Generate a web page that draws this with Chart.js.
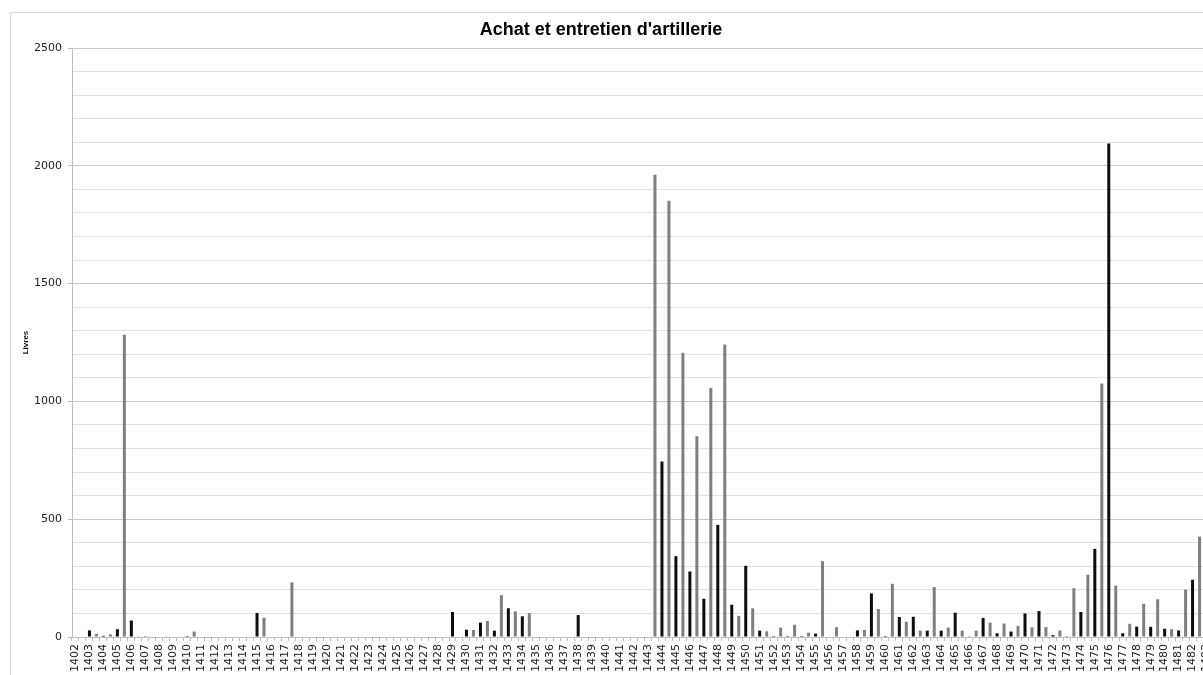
<!DOCTYPE html>
<html lang="fr">
  <head>
    <meta charset="UTF-8" />
    <title>Achat et entretien d'artillerie</title>
    <script src="https://cdn.jsdelivr.net/npm/chart.js"></script>
    <style>
      body {
        margin: 0;
        background: #ffffff;
        overflow: hidden;
      }
      .cadre {
        position: absolute;
        left: 10px;
        top: 12px;
        width: 1206px;
        height: 674px;
        border: 1px solid #d9d9d9;
      }
      h1 {
        position: absolute;
        left: 0;
        top: 19px;
        width: 1202px;
        margin: 0;
        text-align: center;
        font: bold 18px/21px "Liberation Sans", Arial, sans-serif;
        color: #000;
        z-index: 2;
      }
    </style>
  </head>
  <body>
    <h1>Achat et entretien d'artillerie</h1>
    <div class="cadre">
      <canvas id="artillerieChart" width="1206" height="674"></canvas>
    </div>

    <script>
      // années (une étiquette par année, deux termes par année)
      const annees = [
        "1402", "1403", "1404", "1405", "1406", "1407", "1408", "1409", "1410", "1411",
        "1412", "1413", "1414", "1415", "1416", "1417", "1418", "1419", "1420", "1421",
        "1422", "1423", "1424", "1425", "1426", "1427", "1428", "1429", "1430", "1431",
        "1432", "1433", "1434", "1435", "1436", "1437", "1438", "1439", "1440", "1441",
        "1442", "1443", "1444", "1445", "1446", "1447", "1448", "1449", "1450", "1451",
        "1452", "1453", "1454", "1455", "1456", "1457", "1458", "1459", "1460", "1461",
        "1462", "1463", "1464", "1465", "1466", "1467", "1468", "1469", "1470", "1471",
        "1472", "1473", "1474", "1475", "1476", "1477", "1478", "1479", "1480", "1481",
        "1482", "1483",
      ];

      // premier terme (barres noires), en livres
      const premierTerme = [
        0, 28, 5, 33, 70, 1, 0, 0, 4, 0,
        0, 0, 0, 102, 0, 0, 0, 0, 0, 0,
        0, 0, 0, 0, 0, 0, 0, 106, 31, 61,
        27, 122, 88, 0, 0, 0, 93, 0, 0, 0,
        0, 0, 745, 343, 278, 162, 476, 137, 302, 27,
        4, 4, 4, 14, 0, 0, 28, 185, 4, 85,
        86, 27, 27, 103, 3, 81, 16, 23, 100, 110,
        8, 1, 106, 374, 2095, 16, 44, 43, 35, 28,
        243,
      ];

      // second terme (barres grises), en livres
      const secondTerme = [
        0, 13, 11, 1283, 3, 0, 3, 0, 23, 0,
        0, 0, 0, 82, 0, 232, 0, 0, 0, 0,
        0, 0, 0, 0, 0, 0, 0, 0, 30, 68,
        178, 109, 102, 0, 0, 0, 0, 0, 0, 0,
        0, 1962, 1852, 1206, 852, 1057, 1241, 90, 122, 24,
        40, 52, 18, 322, 42, 0, 30, 119, 226, 65,
        27, 212, 40, 27, 27, 61, 57, 47, 41, 42,
        28, 207, 264, 1076, 218, 56, 141, 160, 33, 201,
        426,
      ];

      const yMax = 2500;
      const yPas = 100;
      const yMajeur = 500;

      // une colonne par terme : premier terme étiqueté, second sans étiquette
      const labels = [];
      const valeurs = [];
      const couleurs = [];
      annees.forEach((a, i) => {
        labels.push(a);
        valeurs.push(premierTerme[i] ?? null);
        couleurs.push("#0d0d0d");
        labels.push("");
        valeurs.push(secondTerme[i] ?? null);
        couleurs.push("#7f7f7f");
      });

      const ctx = document.getElementById("artillerieChart").getContext("2d");
      new Chart(ctx, {
        type: "bar",
        data: {
          labels: labels,
          datasets: [
            {
              label: "Livres",
              data: valeurs,
              backgroundColor: couleurs,
              borderWidth: 0,
              barPercentage: 0.43,
              categoryPercentage: 1,
            },
          ],
        },
        options: {
          responsive: false,
          animation: false,
          layout: { padding: { top: 35, left: 0, right: 0, bottom: 0 } },
          plugins: {
            legend: { display: false },
            tooltip: { enabled: false },
          },
          scales: {
            x: {
              ticks: {
                autoSkip: false,
                minRotation: 90,
                maxRotation: 90,
                padding: 3,
                color: "#222",
                font: { family: "DejaVu Sans", size: 11 },
              },
              grid: {
                drawOnChartArea: false,
                tickLength: 4,
                tickColor: "#bdbdbd",
              },
              border: { color: "#bdbdbd" },
              afterFit: (scale) => {
                scale.height = 50;
                scale.paddingLeft = 0;
                scale.paddingRight = 0;
              },
            },
            y: {
              min: 0,
              max: yMax,
              ticks: {
                stepSize: yPas,
                padding: 6,
                color: "#222",
                font: { family: "DejaVu Sans", size: 11 },
                callback: (v) => (v % yMajeur === 0 ? v : ""),
              },
              grid: {
                tickLength: 4,
                color: (c) => (c.tick.value % yMajeur === 0 ? "#c9c9c9" : "#e2e2e2"),
                tickColor: (c) => (c.tick.value % yMajeur === 0 ? "#bdbdbd" : "rgba(0,0,0,0)"),
              },
              border: { color: "#bdbdbd" },
              title: {
                display: true,
                text: "Livres",
                color: "#111",
                padding: { top: 10, bottom: 0 },
                font: { family: "Liberation Sans", size: 8, weight: "bold" },
              },
              afterFit: (scale) => {
                scale.width = 61;
              },
            },
          },
        },
      });
    </script>
  </body>
</html>
